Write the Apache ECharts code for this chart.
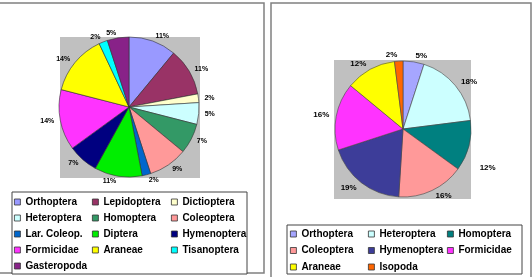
<!DOCTYPE html>
<html>
<head>
<meta charset="utf-8">
<script src="https://cdn.jsdelivr.net/npm/echarts@6/dist/echarts.min.js"></script>
<style>
html, body { margin: 0; padding: 0; background: #fff; }
#chart { width: 532px; height: 277px; }
</style>
</head>
<body>
<div id="chart"></div>
<script>
// left pie
const leftNames = ['Orthoptera', 'Lepidoptera', 'Dictioptera', 'Heteroptera', 'Homoptera', 'Coleoptera',
  'Lar. Coleop.', 'Diptera', 'Hymenoptera', 'Formicidae', 'Araneae', 'Tisanoptera', 'Gasteropoda']
const leftValues = [11, 11, 2, 5, 7, 9, 2, 11, 7, 14, 14, 2, 5]
const leftColors = ['#9999ff', '#993366', '#ffffcc', '#ccffff', '#339966', '#ff9999',
  '#0066cc', '#00ee00', '#000080', '#ff33ff', '#ffff00', '#00ffff', '#882288']

// right pie
const rightNames = ['Orthoptera', 'Heteroptera', 'Homoptera', 'Coleoptera', 'Hymenoptera', 'Formicidae', 'Araneae', 'Isopoda']
const rightValues = [5, 18, 12, 16, 19, 16, 12, 2]
const rightColors = ['#a6a6ff', '#ccffff', '#008080', '#ff9999', '#3d3d99', '#ff33ff', '#ffff00', '#ff6600']

const font = 'Liberation Sans, Arial, sans-serif'

function pieData (names, values, colors) {
  const d = []
  for (let i = 0; i < names.length; i++) {
    d.push({ name: names[i], value: values[i], itemStyle: { color: colors[i] } })
  }
  return d
}

// one legend per column so the items line up like the original
function legendCol (names, colors, idx, left, top, gap) {
  return {
    orient: 'vertical',
    left: left,
    top: top,
    itemWidth: 6,
    itemHeight: 6,
    itemGap: gap,
    padding: 0,
    icon: 'rect',
    selectedMode: false,
    textStyle: { fontFamily: font, fontSize: 10, fontWeight: 'bold', color: '#000', lineHeight: 12 },
    data: idx.map(i => ({ name: names[i], itemStyle: { color: colors[i], borderColor: '#333', borderWidth: 0.8 } }))
  }
}

const option = {
  animation: false,
  graphic: [
    // panel frames
    { type: 'rect', shape: { x: -2, y: 3, width: 266, height: 270 }, style: { fill: 'none', stroke: '#808080', lineWidth: 1.5 }, z: 0 },
    { type: 'rect', shape: { x: 271, y: 3, width: 260, height: 280 }, style: { fill: 'none', stroke: '#808080', lineWidth: 1.5 }, z: 0 },
    // plot areas
    { type: 'rect', shape: { x: 60, y: 37, width: 140, height: 141 }, style: { fill: '#c0c0c0' }, z: 0 },
    { type: 'rect', shape: { x: 334, y: 60, width: 137, height: 139 }, style: { fill: '#c0c0c0' }, z: 0 },
    // legend boxes
    { type: 'rect', shape: { x: 12, y: 192, width: 235, height: 82 }, style: { fill: '#fff', stroke: '#444', lineWidth: 1 }, z: 0 },
    { type: 'rect', shape: { x: 287, y: 225, width: 235, height: 49 }, style: { fill: '#fff', stroke: '#444', lineWidth: 1 }, z: 0 }
  ],
  legend: [
    legendCol(leftNames, leftColors, [0, 3, 6, 9, 12], 14, 196, 4),
    legendCol(leftNames, leftColors, [1, 4, 7, 10], 92, 196, 4),
    legendCol(leftNames, leftColors, [2, 5, 8, 11], 171, 196, 4),
    legendCol(rightNames, rightColors, [0, 3, 6], 290, 228, 4.5),
    legendCol(rightNames, rightColors, [1, 4, 7], 368, 228, 4.5),
    legendCol(rightNames, rightColors, [2, 5], 447, 228, 4.5)
  ],
  series: [
    {
      type: 'pie',
      center: [129, 107],
      radius: 70,
      startAngle: 90,
      clockwise: true,
      avoidLabelOverlap: false,
      itemStyle: { borderColor: '#333', borderWidth: 0.6 },
      label: {
        show: true,
        position: 'outside',
        formatter: '{c}%',
        fontFamily: font,
        fontSize: 7,
        fontWeight: 'bold',
        color: '#000',
        distanceToLabelLine: 0
      },
      labelLine: { show: false, length: 5, length2: 1 },
      emphasis: { disabled: true },
      data: pieData(leftNames, leftValues, leftColors)
    },
    {
      type: 'pie',
      center: [403, 129],
      radius: 68,
      startAngle: 90,
      clockwise: true,
      avoidLabelOverlap: false,
      itemStyle: { borderColor: '#444', borderWidth: 0.6 },
      label: {
        show: true,
        position: 'outside',
        formatter: '{c}%',
        fontFamily: font,
        fontSize: 8,
        fontWeight: 'bold',
        color: '#000',
        distanceToLabelLine: 0
      },
      labelLine: { show: false, length: 6, length2: 1 },
      // the Homoptera label sits lower in the original, next to a small dash
      labelLayout: function (p) {
        if (p.dataIndex === 2) return { dx: 4, dy: 20 }
        return {}
      },
      emphasis: { disabled: true },
      data: pieData(rightNames, rightValues, rightColors)
    }
  ]
}

const myChart = echarts.init(document.getElementById('chart'))
myChart.setOption(option)
</script>
</body>
</html>
